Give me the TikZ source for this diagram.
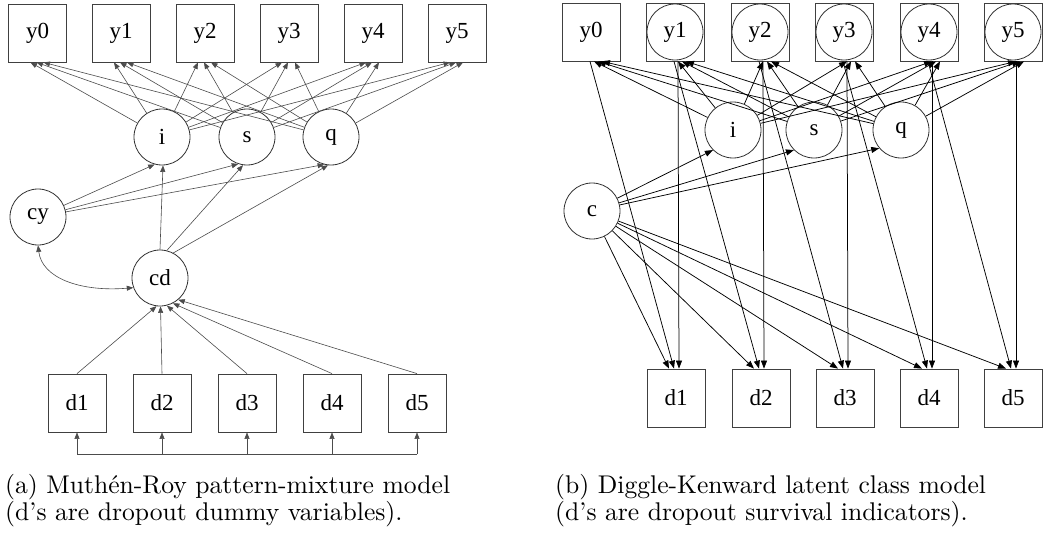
\documentclass[tikz,border=0pt]{standalone}
\usepackage{fontspec}
\setmainfont{lmroman10-regular.otf}
\newfontfamily\nodefont{Liberation Serif}
\usetikzlibrary{arrows.meta,calc}
\begin{document}
\begin{tikzpicture}[x=1pt,y=-1pt,
  obs/.style={draw=black!75, line width=0.8pt, minimum size=58pt, inner sep=0pt, font=\nodefont\fontsize{23}{23}\selectfont},
  obsc/.style={obs, path picture={\draw[black!80, line width=0.8pt] (path picture bounding box.center) circle[radius=28pt];}},
  lat/.style={circle, draw=black!80, line width=0.8pt, minimum size=56pt, inner sep=0pt, font=\nodefont\fontsize{23}{23}\selectfont},
  larr/.style={draw=black!70, line width=0.6pt, -{Triangle[length=6.5pt,width=5pt]}},
  larrb/.style={draw=black!70, line width=0.6pt, {Triangle[length=6.5pt,width=5pt]}-{Triangle[length=6.5pt,width=5pt]}},
  lline/.style={draw=black!70, line width=0.6pt},
  rarr/.style={draw=black, line width=0.75pt, -{Triangle[length=8pt,width=6pt]}},
  captxt/.style={anchor=base west, inner sep=0pt, font=\fontsize{25.6}{27}\selectfont}
]
\fill[white] (0,0) rectangle (1050,535);
% ---------- left panel ----------
\foreach \k/\x in {0/37.5,1/121,2/205,3/289,4/373,5/457}
  \node[obs] (ly\k) at (\x,33) {y\k};
\node[lat] (li) at (162,137) {i};
\node[lat] (ls) at (247,137) {s};
\node[lat] (lq) at (331,137) {q};
\node[lat] (cy) at (38,217) {cy};
\node[lat] (cd) at (160,278) {cd};
\foreach \k/\x in {1/77,2/162,3/247,4/332,5/417}
  \node[obs] (d\k) at (\x,403) {d\k};
\foreach \k in {0,...,5} {
  \draw[larr] (li) -- ([xshift=-7pt]ly\k.south);
  \draw[larr] (ls) -- ([xshift=-1pt]ly\k.south);
  \draw[larr] (lq) -- ([xshift=6pt]ly\k.south);
}
\draw[larr] (cy) -- (li.255);
\draw[larr] (cy) -- (ls.252);
\draw[larr] (cy) -- (lq.256);
\draw[larr] (cd.north) -- (li.272);
\draw[larr] (cd.76) -- (ls.262);
\draw[larr] (cd.62) -- (lq.264);
\draw[larrb] (cy.south) .. controls (42,278) and (80,292) .. (cd.200);
\draw[larr] (d1.north) -- (cd.263);
\draw[larr] (d2.north) -- (cd.271);
\draw[larr] (d3.north) -- (cd.284);
\draw[larr] (d4.north) -- (cd.297);
\draw[larr] (d5.north) -- (cd.310);
\foreach \k in {1,...,5}
  \coordinate (b\k) at ([yshift=-22pt]d\k.south);
\draw[lline] (b1) -- (b5);
\foreach \k in {1,...,5}
  \draw[larr] (b\k) -- (d\k.south);
% ---------- right panel ----------
\node[obs] (ry0) at (591,32) {y0};
\foreach \k/\x in {1/675,2/760,3/844,4/929,5/1013}
  \node[obsc] (ry\k) at (\x,32) {y\k};
\node[lat] (ri) at (733,130) {i};
\node[lat] (rs) at (814,130) {s};
\node[lat] (rq) at (901,130) {q};
\node[lat] (c) at (592,211) {c};
\foreach \k/\x in {1/676,2/761,3/845,4/929,5/1013}
  \node[obs] (rd\k) at (\x,398) {d\k};
\foreach \k in {0,...,5} {
  \draw[rarr] (ri) -- ([xshift=3pt]ry\k.south);
  \draw[rarr] (rs) -- ([xshift=7pt]ry\k.south);
  \draw[rarr] (rq) -- ([xshift=11pt]ry\k.south);
}
\draw[rarr] (c) -- (ri.225);
\draw[rarr] (c) -- (rs.225);
\draw[rarr] (c) -- (rq.220);
\foreach \k [evaluate=\k as \j using int(\k-1)] in {1,...,5} {
  \draw[rarr] (c) -- ([xshift=-7pt]rd\k.north);
  \draw[rarr] ([xshift=-1pt]ry\j.south) -- ([xshift=-2pt]rd\k.north);
  \draw[rarr] ([xshift=3pt]ry\k.south) -- ([xshift=3pt]rd\k.north);
}
% ---------- captions ----------
\node[captxt] (capa1) at (5,493) {(a) Muthén-Roy pattern-mixture model};
\node[captxt] (capa2) at (5,520) {(d’s are dropout dummy variables).};
\node[captxt] (capb1) at (555,493) {(b) Diggle-Kenward latent class model};
\node[captxt] (capb2) at (555,520) {(d’s are dropout survival indicators).};
\end{tikzpicture}
\end{document}
